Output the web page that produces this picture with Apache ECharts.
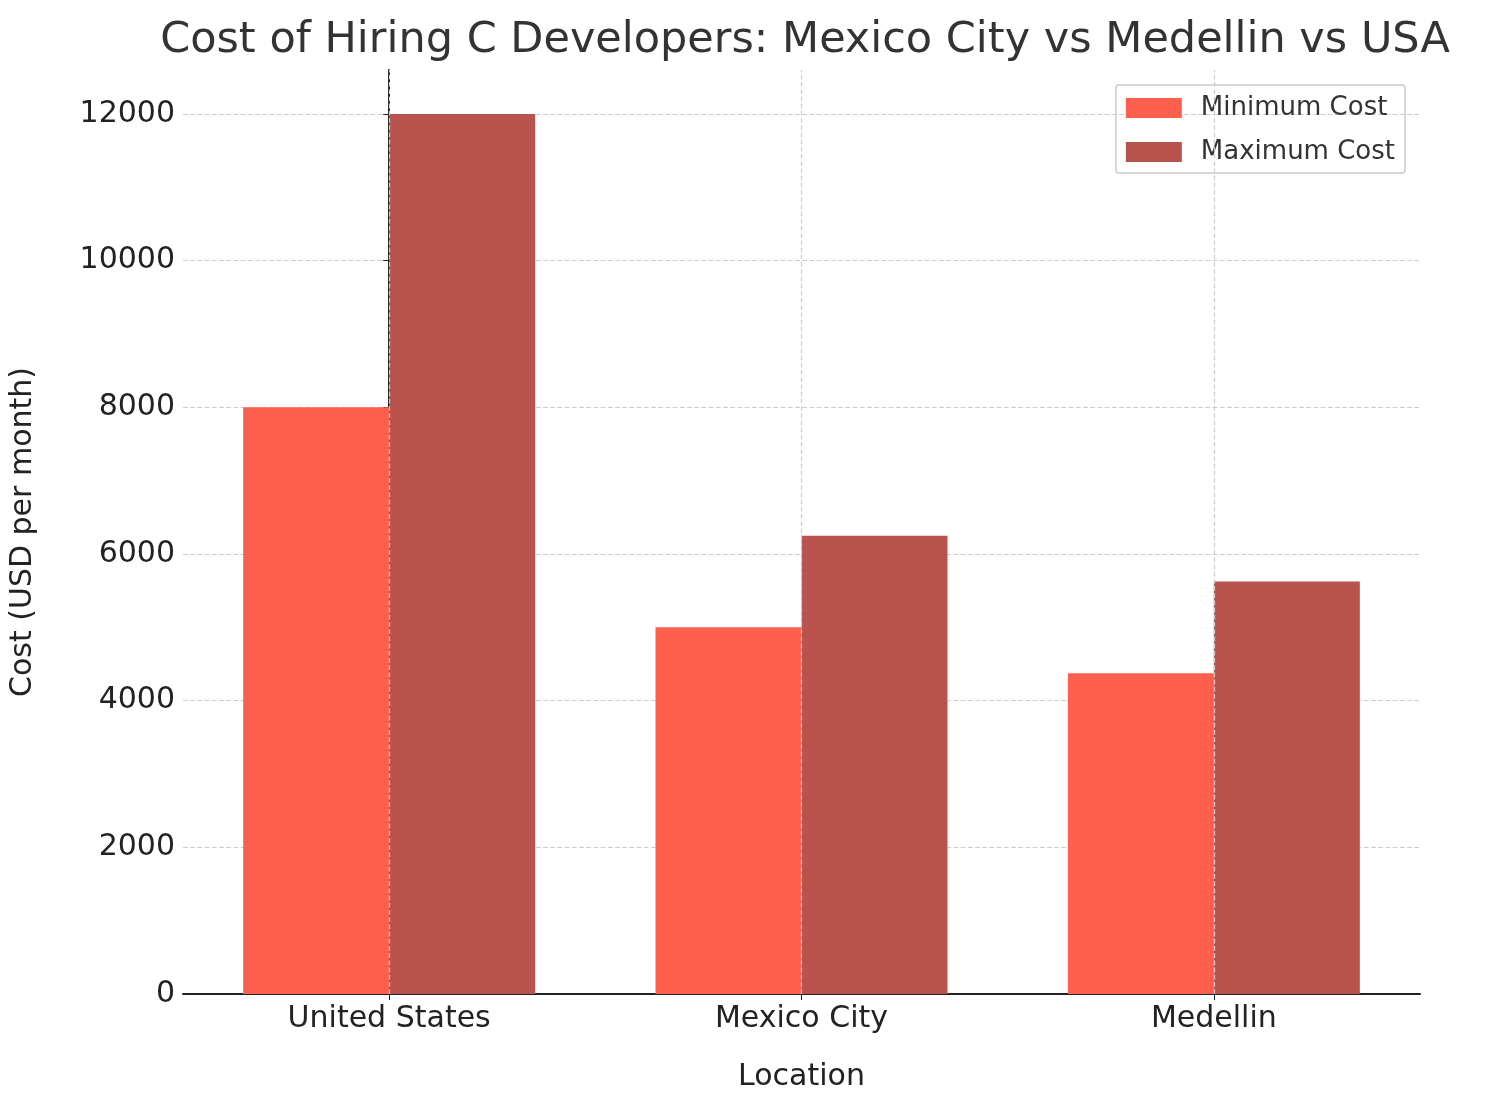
<!DOCTYPE html>
<html><head><meta charset="utf-8">
<script src="https://cdn.jsdelivr.net/npm/echarts@6/dist/echarts.min.js"></script>
<style>html,body{margin:0;background:#fff}#c{width:1487px;height:1101px}</style>
</head><body><div id="c"></div>
<script>
const categories = ["United States", "Mexico City", "Medellin"];
const minCost = [8000, 5000, 4375];
const maxCost = [12000, 6250, 5625];
const chart = echarts.init(document.getElementById('c'));
const font = 'DejaVu Sans';
chart.setOption({
  animation:false,
  textStyle:{fontFamily:font},
  title:{text:'Cost of Hiring C Developers: Mexico City vs Medellin vs USA',left:800,textAlign:'center',top:14,textStyle:{fontFamily:font,fontSize:43,fontWeight:'normal',color:'#333'}},
  legend:{right:82,top:85,orient:'vertical',itemWidth:56,itemHeight:20,itemGap:18,padding:[10,10,8,10],borderColor:'#ccc',borderWidth:1.5,borderRadius:3,itemStyle:{borderRadius:0},
    data:[{name:'Minimum Cost',icon:'rect'},{name:'Maximum Cost',icon:'rect'}],
    textStyle:{fontFamily:font,fontSize:26,color:'#333',padding:[0,0,0,14]}},
  grid:{left:180,right:67,top:70,bottom:107},
  xAxis:[{type:'category',data:categories,axisTick:{show:true,alignWithLabel:true,length:6,lineStyle:{color:'#222'}},axisLine:{lineStyle:{color:'#222',width:2}},
    axisLabel:{fontSize:30,color:'#222',margin:10,fontFamily:font},name:'Location',nameLocation:'middle',nameGap:68,nameTextStyle:{fontSize:30,color:'#222',fontFamily:font}},
    {type:'value',min:-0.5,max:2.5,show:false}],
  yAxis:{type:'value',min:0,max:12600,interval:2000,axisLine:{show:true,lineStyle:{color:'#222',width:2}},axisTick:{show:true,length:6,lineStyle:{color:'#222'}},
    axisLabel:{fontSize:30,color:'#222',showMaxLabel:false,fontFamily:font,formatter:v=>String(v)},splitLine:{showMaxLine:false,lineStyle:{type:'dashed',color:'#ccc',width:1.2}},
    name:'Cost (USD per month)',nameLocation:'middle',nameGap:145,nameTextStyle:{fontSize:30,color:'#222',fontFamily:font}},
  series:[
    {name:'Minimum Cost',type:'bar',data:minCost,barWidth:146,barGap:'0%',itemStyle:{color:'#FF5F4D'},z:1},
    {name:'Maximum Cost',type:'bar',data:maxCost,barWidth:146,itemStyle:{color:'#B8534D'},z:1},
    {name:'grid',type:'line',xAxisIndex:1,data:[],
     markLine:{silent:true,symbol:'none',label:{show:false},lineStyle:{type:'dashed',color:'#ccc',width:1.2},data:[{xAxis:0},{xAxis:1},{xAxis:2}]},z:5}
  ]
});
</script></body></html>
